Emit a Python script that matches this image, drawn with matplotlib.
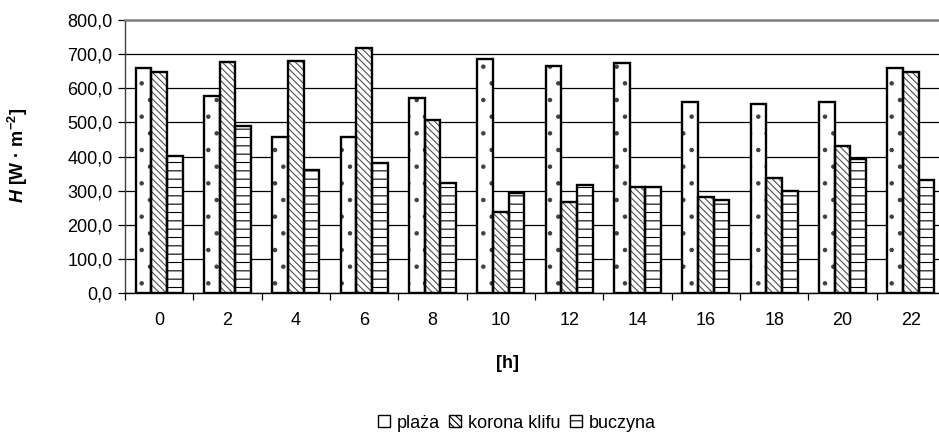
import matplotlib
matplotlib.use("Agg")
import matplotlib.pyplot as plt
import numpy as np
from matplotlib.ticker import FixedLocator, FuncFormatter
from matplotlib.patches import Patch

plt.rcParams['font.family'] = ['Liberation Sans', 'DejaVu Sans']
plt.rcParams['mathtext.fontset'] = 'custom'
plt.rcParams['mathtext.rm'] = 'Liberation Sans:bold'
plt.rcParams['mathtext.bf'] = 'Liberation Sans:bold'
plt.rcParams['mathtext.it'] = 'Liberation Sans:bold:italic'
plt.rcParams['hatch.linewidth'] = 0.8

hours = ["0", "2", "4", "6", "8", "10", "12", "14", "16", "18", "20", "22"]
plaza = [658, 577, 457, 457, 571, 686, 664, 675, 561, 555, 561, 658]
korona_klifu = [648, 676, 680, 718, 507, 238, 267, 310, 282, 336, 431, 648]
buczyna = [402, 489, 359, 381, 321, 294, 316, 310, 273, 299, 393, 331]

# name, values, hatch pattern, hatch colour
series = [
    ("plaża", plaza, ".", "#404040"),
    ("korona klifu", korona_klifu, "\\\\\\\\\\", "#505050"),
    ("buczyna", buczyna, "--", "black"),
]

FS = 13
W, H = 939, 433

fig = plt.figure(figsize=(W / 100, H / 100), dpi=100)
ax = fig.add_axes([125 / W, 1 - 293 / H, 820 / W, 273 / H])

x = np.arange(len(hours))
w = 0.23
for i, (name, vals, hatch, hc) in enumerate(series):
    pos = x + (i - 1) * w
    # hatched fill (hatch takes the edge colour), then a black outline on top
    ax.bar(pos, vals, width=w, facecolor="white", edgecolor=hc,
           linewidth=0, hatch=hatch, zorder=3)
    ax.bar(pos, vals, width=w, facecolor="none", edgecolor="black",
           linewidth=1.7, zorder=4)

ax.set_xlim(-0.5, len(hours) - 0.5)
ax.set_ylim(0, 800)

ax.set_yticks(np.arange(0, 801, 100))
ax.yaxis.set_major_formatter(FuncFormatter(lambda v, p: f"{v:.1f}".replace(".", ",")))
ax.grid(axis="y", color="black", linewidth=0.9, zorder=0)
ax.tick_params(axis="y", direction="out", length=5, width=0.9, labelsize=FS, pad=4)

ax.xaxis.set_major_locator(FixedLocator(np.arange(-0.5, len(hours), 1.0)))
ax.xaxis.set_minor_locator(FixedLocator(x))
ax.set_xticklabels([], minor=False)
ax.set_xticklabels(hours, minor=True)
ax.tick_params(axis="x", which="major", direction="out", length=5, width=0.9)
ax.tick_params(axis="x", which="minor", length=0, labelsize=FS, pad=14)

ax.spines["right"].set_visible(False)
ax.spines["top"].set_color("#808080")
ax.spines["top"].set_linewidth(1.8)
ax.spines["left"].set_color("#404040")
ax.spines["left"].set_linewidth(1.0)
ax.spines["bottom"].set_color("black")
ax.spines["bottom"].set_linewidth(1.0)

# axis titles
fig.text(508 / W, 1 - 363 / H, "[h]", fontsize=FS, fontweight="bold",
         ha="center", va="center")
fig.text(18 / W, 1 - 155 / H, r"$\mathit{H}$ [W · m$^{-2}$]", rotation=90,
         fontsize=FS, fontweight="bold", ha="center", va="center")

handles = [Patch(facecolor="white", edgecolor="black", linewidth=1.0,
                 hatch=None if h == "." else h)
           for _, _, h, _ in series]
fig.legend(handles, [s[0] for s in series], loc="center",
           bbox_to_anchor=(517 / W, 1 - 423 / H), ncol=3, frameon=False,
           fontsize=FS, handlelength=0.65, handleheight=0.65, handletextpad=0.4,
           columnspacing=0.5, borderpad=0.0)

fig.savefig("out.png", dpi=100)
